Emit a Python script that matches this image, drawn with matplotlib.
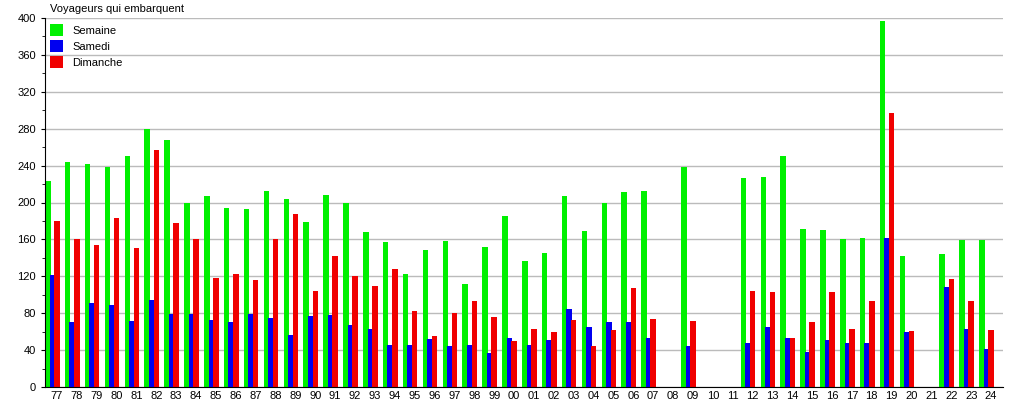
import matplotlib.pyplot as plt
import numpy as np

plt.rcParams["font.family"] = ["Liberation Sans", "DejaVu Sans"]

years = ["77", "78", "79", "80", "81", "82", "83", "84", "85", "86", "87", "88",
         "89", "90", "91", "92", "93", "94", "95", "96", "97", "98", "99", "00",
         "01", "02", "03", "04", "05", "06", "07", "08", "09", "10", "11", "12",
         "13", "14", "15", "16", "17", "18", "19", "20", "21", "22", "23", "24"]

semaine = [223, 244, 242, 238, 250, 280, 268, 200, 207, 194, 193, 213,
           204, 179, 208, 200, 168, 157, 122, 148, 158, 112, 152, 185,
           137, 145, 207, 169, 200, 211, 213, 0, 239, 0, 0, 227,
           228, 250, 171, 170, 160, 161, 397, 142, 0, 144, 159, 159]
samedi = [121, 70, 91, 89, 72, 94, 79, 79, 73, 70, 79, 75,
          56, 77, 78, 67, 63, 46, 46, 52, 44, 46, 37, 53,
          46, 51, 85, 65, 70, 70, 53, 0, 44, 0, 0, 48,
          65, 53, 38, 51, 48, 48, 162, 60, 0, 108, 63, 41]
dimanche = [180, 160, 154, 183, 151, 257, 178, 160, 118, 122, 116, 160,
            187, 104, 142, 120, 110, 128, 82, 55, 80, 93, 76, 50,
            63, 60, 73, 44, 62, 107, 74, 0, 72, 0, 0, 104,
            103, 53, 70, 103, 63, 93, 297, 61, 0, 117, 93, 62]

series = [("Semaine", semaine, "#00f000"),
          ("Samedi", samedi, "#0000f0"),
          ("Dimanche", dimanche, "#f00000")]

fig = plt.figure(figsize=(10.15, 4.0), dpi=100)
ax = fig.add_axes([45 / 1015, 13 / 400, 958 / 1015, 369 / 400])

x = np.arange(len(years))
width = 0.28
offsets = [-0.46, -0.23, 0.0]
for (label, values, color), off in zip(series, offsets):
    ax.bar(x + off, values, width, color=color, label=label, zorder=2)

ax.set_xlim(-0.6, 47.6)
ax.set_ylim(0, 400)
ax.set_xticks(x)
ax.set_xticklabels(years, fontsize=8)
ax.set_yticks(np.arange(0, 401, 40))
ax.set_yticks(np.arange(0, 401, 20), minor=True)
ax.tick_params(axis="y", labelsize=8, length=3, direction="out")
ax.tick_params(axis="y", which="minor", length=2)
ax.tick_params(axis="x", length=0, pad=3)
ax.grid(axis="y", color="#bbbbbb", linewidth=1, zorder=0)
for side in ("top", "right"):
    ax.spines[side].set_visible(False)

ax.text(0.005, 1.012, "Voyageurs qui embarquent", transform=ax.transAxes,
        fontsize=8, va="bottom", ha="left")

ax.legend(loc="upper left", frameon=False, fontsize=8, handlelength=1.2,
          handleheight=1.3, handletextpad=0.8, labelspacing=0.35,
          bbox_to_anchor=(-0.003, 1.005), borderaxespad=0.3)

fig.savefig("out.png", dpi=100)
